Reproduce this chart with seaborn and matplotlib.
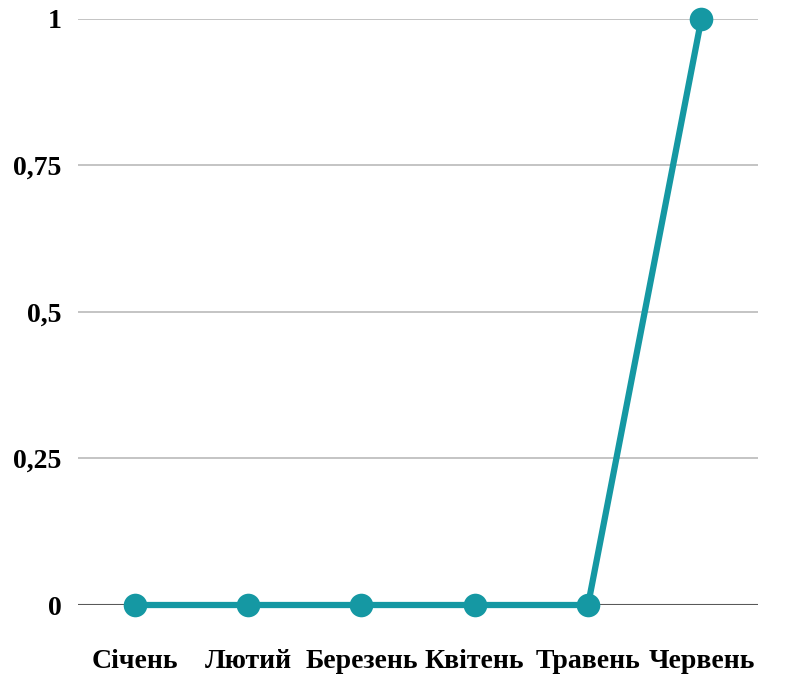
import matplotlib
matplotlib.use("Agg")
import matplotlib.pyplot as plt
import seaborn as sns
import pandas as pd

months = ["Січень", "Лютий", "Березень", "Квітень", "Травень", "Червень"]
values = [0, 0, 0, 0, 0, 1]
y_ticks = [0, 0.25, 0.5, 0.75, 1]
y_labels = ["0", "0,25", "0,5", "0,75", "1"]

teal = "#1598a3"

sns.set_theme(style="white")
plt.rcParams["font.family"] = ["Liberation Serif", "DejaVu Serif"]

df = pd.DataFrame({"month": months, "value": values, "pos": range(len(months))})

fig = plt.figure(figsize=(7.93, 6.75), dpi=100)
ax = fig.add_axes([0.0984, 0.1037, 0.8575, 0.8682])

# horizontal grid lines
for t in y_ticks[1:]:
    ax.axhline(t, color="#bfbfbf", lw=1.3, zorder=0)
ax.axhline(0, color="#595959", lw=1.5, zorder=1)

sns.lineplot(data=df, x="pos", y="value", ax=ax, color=teal, lw=4.5,
             marker="o", markersize=17, markeredgewidth=0,
             markerfacecolor=teal, clip_on=False, zorder=3)

ax.set_xlim(-0.5, len(months) - 0.5)
ax.set_ylim(0, 1)
ax.set_xticks(range(len(months)))
ax.set_xticklabels(months, fontsize=20, fontweight="bold", color="black")
ax.set_yticks(y_ticks)
ax.set_yticklabels(y_labels, fontsize=20, fontweight="bold", color="black")
ax.tick_params(axis="x", length=0, pad=32)
ax.tick_params(axis="y", length=0, pad=12)
ax.set_xlabel("")
ax.set_ylabel("")
for s in ax.spines.values():
    s.set_visible(False)

fig.savefig("out.png", dpi=100, facecolor="white")
